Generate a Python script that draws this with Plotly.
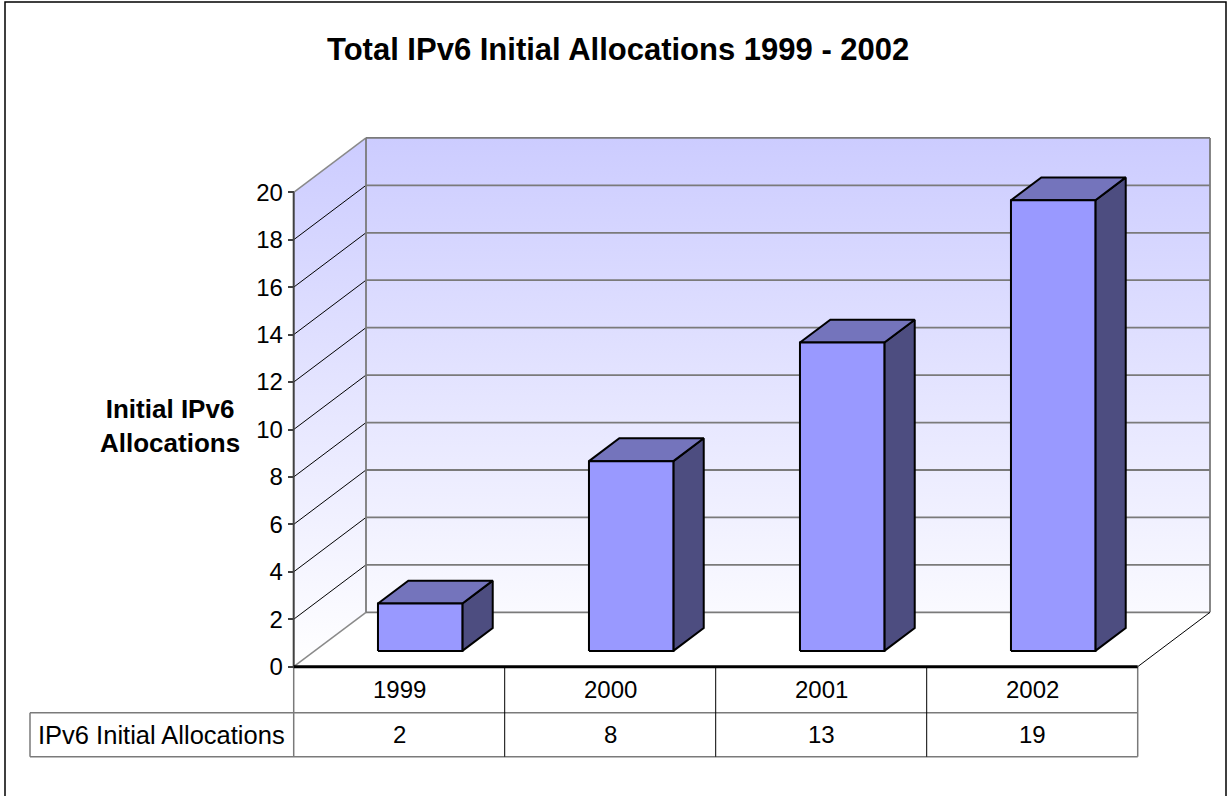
import plotly.graph_objects as go

# ---------------- data ----------------
years = ["1999", "2000", "2001", "2002"]
allocations = [2, 8, 13, 19]
y_ticks = [0, 2, 4, 6, 8, 10, 12, 14, 16, 18, 20]
title_text = "Total IPv6 Initial Allocations 1999 - 2002"
y_title = "Initial IPv6<br>Allocations"
series_name = "IPv6 Initial Allocations"

# ---------------- layout geometry (pixels) ----------------
W, H = 1229, 796
X0, CW = 293.7, 211.0       # px of category edge 0, px per category
Y0, PU = 666.7, 23.72       # px of value 0, px per unit
DXP, DYP = 72.3, 54.4       # 3D depth offset in px
ROW1_B, ROW2_B = 712.7, 756.7
LABEL_L = 30.0

def xd(px):
    return (px - X0) / CW

def yd(py):
    return (Y0 - py) / PU

ddx, ddy = DXP / CW, DYP / PU
ncat = len(years)
ymax = max(y_ticks)
F1, F2, BW = 0.29, 0.71, 0.40

FONT = "Liberation Sans, Arial, sans-serif"
fig = go.Figure()

def poly(xs, ys, fill, line_color="black", line_width=0, grad=None):
    kw = dict(x=list(xs) + [xs[0]], y=list(ys) + [ys[0]], mode="lines", fill="toself",
              line=dict(color=line_color, width=line_width), hoverinfo="skip", showlegend=False)
    if grad:
        kw["fillgradient"] = grad
    else:
        kw["fillcolor"] = fill
    fig.add_trace(go.Scatter(**kw))

def lines(segs, color, width):
    xs, ys = [], []
    for (a, b, c, d) in segs:
        xs += [a, c, None]
        ys += [b, d, None]
    fig.add_trace(go.Scatter(x=xs, y=ys, mode="lines", line=dict(color=color, width=width),
                             hoverinfo="skip", showlegend=False))

grad = dict(type="vertical", colorscale=[[0, "#ffffff"], [1, "#ccccff"]], start=0, stop=ymax + ddy)

# back wall
poly([ddx, ncat + ddx, ncat + ddx, ddx], [ddy, ddy, ymax + ddy, ymax + ddy], None, grad=grad)
# side wall
poly([0, ddx, ddx, 0], [0, ddy, ymax + ddy, ymax], None, grad=grad)
# floor
poly([0, ncat, ncat + ddx, ddx], [0, 0, ddy, ddy], "#ffffff")

# back wall gridlines
lines([(ddx, v + ddy, ncat + ddx, v + ddy) for v in y_ticks], "#7a7a7a", 1.8)
# side wall gridlines
lines([(0, v, ddx, v + ddy) for v in y_ticks if 0 < v < ymax], "#000000", 1)
lines([(0, 0, ddx, ddy), (0, ymax, ddx, ymax + ddy)], "#8a8a8a", 1.5)
# back wall vertical edges
lines([(ddx, ddy, ddx, ymax + ddy), (ncat + ddx, ddy, ncat + ddx, ymax + ddy)], "#7a7a7a", 1.8)
# floor right edge
lines([(ncat, 0, ncat + ddx, ddy)], "#000000", 1)

# bars (front, top, side faces)
for i, v in enumerate(allocations):
    cx = i + 0.5 + F1 * ddx
    b = F1 * ddy
    xl, xr = cx - BW / 2, cx + BW / 2
    bx, by = (F2 - F1) * ddx, (F2 - F1) * ddy
    poly([xr, xr + bx, xr + bx, xr], [b, b + by, b + v + by, b + v], "#4d4d80", "black", 2)
    poly([xl, xr, xr + bx, xl + bx], [b + v, b + v, b + v + by, b + v + by], "#7474bc", "black", 2)
    poly([xl, xr, xr, xl], [b, b, b + v, b + v], "#9999ff", "black", 2)

# table
r1, r2 = yd(ROW1_B), yd(ROW2_B)
lines([(0, 0, 0, r2), (ncat, 0, ncat, r2), (xd(LABEL_L), r1, xd(LABEL_L), r2),
       (xd(LABEL_L), r1, ncat, r1), (xd(LABEL_L), r2, ncat, r2)], "#7a7a7a", 1.5)
lines([(k, 0, k, r2) for k in range(1, ncat)], "#000000", 1)
# y axis line and front floor edge
lines([(0, 0, 0, ymax)], "#404040", 2)
lines([(0, 0, ncat, 0)], "#000000", 3)

NUM = 24
annotations = []
for i, (yr, v) in enumerate(zip(years, allocations)):
    annotations.append(dict(x=i + 0.5, y=(0 + r1) / 2, xref="x", yref="y", text=yr, showarrow=False,
                            font=dict(family=FONT, size=NUM, color="black")))
    annotations.append(dict(x=i + 0.5, y=(r1 + r2) / 2, xref="x", yref="y", text=str(v), showarrow=False,
                            font=dict(family=FONT, size=NUM, color="black")))
annotations.append(dict(x=xd(LABEL_L + 6), y=(r1 + r2) / 2, xref="x", yref="y", text=series_name,
                        showarrow=False, xanchor="left", yanchor="middle",
                        font=dict(family=FONT, size=25.5, color="black")))
annotations.append(dict(x=xd(242), y=yd(426), xref="x", yref="y", text="<b>" + y_title + "</b>",
                        showarrow=False, xanchor="right", yanchor="middle", align="center",
                        font=dict(family=FONT, size=26, color="black")))
annotations.append(dict(x=617.5 / W, y=1 - 50 / H, xref="paper", yref="paper", text="<b>" + title_text + "</b>",
                        showarrow=False, xanchor="center", yanchor="middle",
                        font=dict(family=FONT, size=31, color="black")))

fig.update_layout(
    width=W, height=H,
    margin=dict(l=0, r=0, t=0, b=0, autoexpand=False),
    paper_bgcolor="white", plot_bgcolor="white",
    showlegend=False,
    xaxis=dict(range=[xd(0), xd(W)], domain=[0, 1], visible=False, fixedrange=True),
    yaxis=dict(range=[yd(H), yd(0)], domain=[0, 1], anchor="free", position=X0 / W,
               tickmode="array", tickvals=y_ticks, ticks="outside", ticklen=6, tickwidth=1.5,
               tickcolor="#404040", showline=False, showgrid=False, zeroline=False,
               tickfont=dict(family=FONT, size=NUM, color="black"), automargin=False, fixedrange=True),
    annotations=annotations,
    shapes=[dict(type="rect", xref="paper", yref="paper", x0=5 / W, x1=1226 / W, y0=-0.01, y1=1 - 2 / H,
                 line=dict(color="black", width=1.5), fillcolor="rgba(0,0,0,0)")],
)

fig.write_html("out.html", config={"displayModeBar": False},
               post_script="document.body.style.margin='0px';document.body.style.overflow='hidden';")
